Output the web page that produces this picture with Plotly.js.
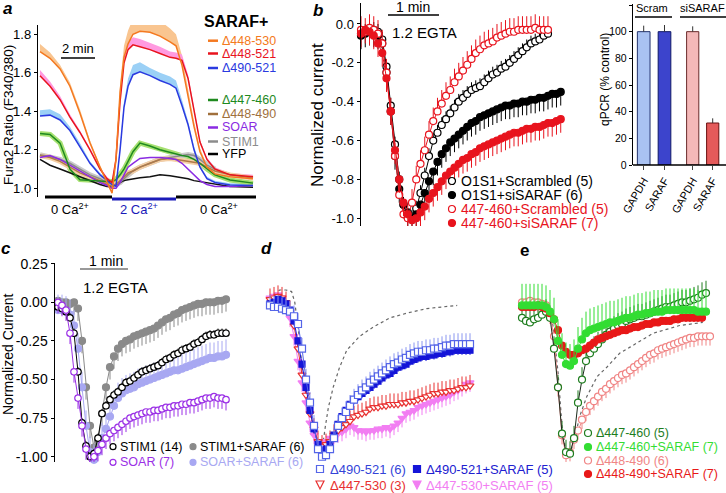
<!DOCTYPE html>
<html><head><meta charset="utf-8">
<script src="https://cdn.plot.ly/plotly-3.0.1.min.js"></script>
<style>html,body{margin:0;padding:0;background:#fff}#chart{width:726px;height:493px}</style>
</head><body><div id="chart"></div>
<script>
// ---------------- DATA ----------------
// Panel a: time (min) and Fura2 ratios
const tA = [0,0.59,1.18,1.76,2.35,2.94,3.53,3.94,4.24,4.47,4.71,4.94,5.18,5.47,5.88,6.47,7.06,7.65,8.0,8.35,8.71,9.06,9.41,9.82,10.29,11.18,12.53];
const aD448_530 = [1.71,1.675,1.62,1.53,1.39,1.235,1.11,1.03,0.975,1.15,1.5,1.68,1.75,1.80,1.815,1.81,1.79,1.76,1.74,1.64,1.48,1.32,1.19,1.11,1.075,1.06,1.05];
const aD448_521 = [1.585,1.53,1.46,1.37,1.29,1.2,1.1,1.05,1.03,1.15,1.45,1.65,1.72,1.745,1.735,1.72,1.70,1.68,1.675,1.665,1.57,1.40,1.24,1.15,1.10,1.07,1.06];
const aD490_521 = [1.375,1.38,1.355,1.30,1.215,1.13,1.07,1.04,1.02,1.01,1.2,1.42,1.53,1.59,1.605,1.585,1.56,1.54,1.52,1.43,1.33,1.2,1.11,1.05,1.03,1.017,1.015];
const aD447_460 = [1.285,1.28,1.235,1.10,1.045,1.04,1.035,1.035,1.035,1.045,1.07,1.10,1.14,1.19,1.235,1.22,1.2,1.185,1.175,1.17,1.165,1.15,1.13,1.10,1.07,1.043,1.027];
const aD448_490 = [1.17,1.16,1.14,1.11,1.08,1.06,1.04,1.02,1.01,1.02,1.04,1.06,1.08,1.09,1.11,1.13,1.15,1.155,1.15,1.145,1.14,1.135,1.13,1.11,1.09,1.07,1.053];
const aSOAR = [1.16,1.17,1.15,1.12,1.09,1.06,1.03,1.015,1.0,1.0,1.03,1.07,1.11,1.13,1.155,1.16,1.16,1.155,1.15,1.13,1.10,1.07,1.04,1.02,1.01,1.01,1.015];
const aSTIM1 = [1.175,1.165,1.15,1.13,1.10,1.07,1.05,1.03,1.02,1.02,1.03,1.05,1.07,1.09,1.11,1.13,1.15,1.16,1.165,1.17,1.175,1.17,1.15,1.12,1.10,null,null];
const aYFP = [1.15,1.12,1.10,1.08,1.06,1.04,1.02,1.01,1.01,1.02,1.03,1.04,1.045,1.05,1.055,1.06,1.07,1.065,1.06,1.055,1.05,1.04,1.035,1.03,1.02,1.01,1.005];
const errA530 = [0.04,0.03,0.02,0.02,0.02,0.015,0.01,0.01,0.01,0.02,0.04,0.06,0.07,0.08,0.08,0.08,0.08,0.07,0.06,0.05,0.04,0.03,0.02,0.01,0.01,0.01,0.01];
const errA521 = [0.03,0.025,0.02,0.015,0.01,0.01,0.01,0.01,0.01,0.01,0.03,0.04,0.04,0.04,0.04,0.035,0.035,0.03,0.03,0.03,0.02,0.02,0.01,0.01,0.01,0.01,0.01];
const errA490 = [0.03,0.03,0.03,0.02,0.02,0.01,0.01,0.01,0.01,0.01,0.02,0.03,0.04,0.05,0.05,0.04,0.04,0.04,0.04,0.03,0.02,0.02,0.01,0.01,0.01,0.01,0.01];

// Panel b: normalized current, sampled every 5 s
const bO1S1Scr = [-0.05,-0.04,-0.03,-0.03,-0.04,-0.08,-0.22,-0.42,-0.62,-0.8,-0.93,-0.99,-1.0,-0.95,-0.87,-0.78,-0.68,-0.6,-0.56,-0.52,-0.49,-0.46,-0.43,-0.4,-0.38,-0.36,-0.34,-0.33,-0.32,-0.3,-0.28,-0.26,-0.25,-0.23,-0.22,-0.2,-0.18,-0.16,-0.14,-0.12,-0.1,-0.09,-0.08,-0.06,-0.05];
const bO1S1Si = [-0.06,-0.05,-0.04,-0.05,-0.06,-0.1,-0.25,-0.45,-0.68,-0.85,-0.93,-0.97,-1.0,-0.98,-0.93,-0.87,-0.81,-0.76,-0.71,-0.67,-0.64,-0.61,-0.59,-0.57,-0.55,-0.53,-0.51,-0.5,-0.48,-0.47,-0.46,-0.45,-0.44,-0.43,-0.42,-0.42,-0.41,-0.41,-0.4,-0.4,-0.39,-0.39,-0.38,-0.38,-0.37,-0.36,-0.36,-0.35];
const b447Scr = [-0.03,-0.04,-0.02,-0.03,-0.05,-0.1,-0.25,-0.45,-0.68,-0.88,-0.98,-1.0,-0.92,-0.8,-0.72,-0.65,-0.57,-0.5,-0.45,-0.41,-0.37,-0.34,-0.3,-0.27,-0.24,-0.21,-0.18,-0.15,-0.13,-0.11,-0.1,-0.09,-0.07,-0.06,-0.05,-0.04,-0.04,-0.03,-0.03,-0.03,-0.03,-0.02,-0.03,-0.03,-0.03];
const b447Si = [-0.05,-0.03,-0.04,-0.06,-0.1,-0.15,-0.28,-0.45,-0.65,-0.8,-0.92,-0.98,-1.01,-1.0,-0.97,-0.94,-0.9,-0.87,-0.84,-0.81,-0.78,-0.76,-0.74,-0.72,-0.7,-0.69,-0.67,-0.66,-0.64,-0.63,-0.62,-0.61,-0.6,-0.59,-0.58,-0.57,-0.56,-0.56,-0.55,-0.54,-0.54,-0.53,-0.53,-0.52,-0.51,-0.51,-0.5,-0.49];

// qPCR
const qCats = ['GAPDH','SARAF'];
const qScram = [100,100], qScramErr = [4.5,5];
const qSi = [100,31.5], qSiErr = [4,3.5];

// Panel c (5 s steps)
const cSTIM1 = [-0.03,-0.04,-0.06,-0.1,-0.2,-0.45,-0.78,-0.93,-1.0,-0.98,-0.88,-0.72,-0.67,-0.63,-0.6,-0.58,-0.55,-0.52,-0.51,-0.49,-0.47,-0.45,-0.44,-0.43,-0.42,-0.41,-0.39,-0.37,-0.36,-0.34,-0.33,-0.31,-0.3,-0.29,-0.27,-0.26,-0.24,-0.22,-0.21,-0.21,-0.2,-0.2,-0.2];
const cSTIM1S = [0.01,0.0,0.0,-0.01,0.0,-0.04,-0.25,-0.55,-0.8,-0.94,-0.9,-0.72,-0.55,-0.42,-0.35,-0.3,-0.27,-0.25,-0.24,-0.22,-0.21,-0.2,-0.19,-0.18,-0.17,-0.15,-0.13,-0.11,-0.1,-0.08,-0.07,-0.05,-0.04,-0.03,-0.02,-0.01,-0.01,0.0,0.0,0.0,0.01,0.01,0.02];
const cSOAR = [0.0,-0.02,-0.05,-0.2,-0.45,-0.62,-0.8,-0.95,-1.04,-1.0,-0.96,-0.92,-0.88,-0.85,-0.83,-0.81,-0.79,-0.77,-0.75,-0.74,-0.73,-0.72,-0.71,-0.71,-0.7,-0.7,-0.69,-0.68,-0.68,-0.67,-0.67,-0.66,-0.66,-0.65,-0.65,-0.64,-0.63,-0.62,-0.62,-0.61,-0.62,-0.62,-0.63];
const cSOARS = [-0.05,-0.05,-0.06,-0.08,-0.15,-0.3,-0.55,-0.8,-0.97,-1.02,-0.97,-0.88,-0.82,-0.74,-0.67,-0.62,-0.59,-0.57,-0.56,-0.55,-0.53,-0.52,-0.51,-0.5,-0.49,-0.48,-0.47,-0.46,-0.45,-0.44,-0.44,-0.43,-0.42,-0.41,-0.4,-0.39,-0.38,-0.37,-0.36,-0.36,-0.35,-0.35,-0.34];

// Panel d (5 s steps)
const d490 = [-0.02,-0.03,-0.03,-0.04,-0.05,-0.06,-0.09,-0.14,-0.3,-0.5,-0.65,-0.8,-0.95,-1.0,-0.99,-0.95,-0.88,-0.8,-0.75,-0.71,-0.67,-0.63,-0.6,-0.57,-0.55,-0.52,-0.5,-0.48,-0.46,-0.44,-0.42,-0.4,-0.39,-0.37,-0.36,-0.34,-0.33,-0.32,-0.32,-0.31,-0.31,-0.3,-0.3,-0.29,-0.28,-0.28,-0.27,-0.27,-0.27,-0.27,-0.27];
const d490S = [-0.01,0.0,0.02,0.01,-0.01,-0.05,-0.12,-0.25,-0.4,-0.55,-0.7,-0.82,-0.92,-0.96,-0.95,-0.92,-0.86,-0.79,-0.74,-0.7,-0.66,-0.63,-0.61,-0.59,-0.57,-0.55,-0.53,-0.51,-0.49,-0.47,-0.46,-0.44,-0.42,-0.41,-0.4,-0.38,-0.37,-0.36,-0.35,-0.35,-0.34,-0.34,-0.33,-0.33,-0.32,-0.32,-0.31,-0.31,-0.31,-0.31,-0.31];
const d447 = [0.02,0.03,0.04,0.03,0.0,-0.06,-0.15,-0.3,-0.47,-0.6,-0.72,-0.82,-0.9,-0.93,-0.92,-0.9,-0.86,-0.83,-0.81,-0.79,-0.77,-0.74,-0.73,-0.72,-0.71,-0.69,-0.68,-0.68,-0.67,-0.67,-0.66,-0.66,-0.66,-0.65,-0.65,-0.64,-0.64,-0.63,-0.62,-0.61,-0.6,-0.59,-0.59,-0.58,-0.58,-0.57,-0.57,-0.56,-0.55,-0.55,-0.54];
const d447S = [0.03,0.04,0.05,0.03,-0.02,-0.1,-0.22,-0.38,-0.52,-0.65,-0.78,-0.86,-0.9,-0.92,-0.9,-0.88,-0.86,-0.85,-0.84,-0.82,-0.8,-0.81,-0.83,-0.83,-0.84,-0.83,-0.83,-0.82,-0.82,-0.81,-0.82,-0.8,-0.78,-0.75,-0.72,-0.71,-0.7,-0.68,-0.67,-0.66,-0.65,-0.64,-0.63,-0.62,-0.61,-0.6,-0.58,-0.57,-0.55,-0.53,-0.52];
const dRefT = [5,12,20,27,31,36,40,45,50,55,60,65,69,73,79,87,96,112,129,150,171,196,234];
const dRef = [0.05,0.08,0.08,0.07,0.0,-0.2,-0.42,-0.6,-0.72,-0.83,-0.9,-0.96,-0.81,-0.68,-0.55,-0.42,-0.31,-0.22,-0.16,-0.1,-0.07,-0.04,-0.02];

// Panel e (5 s steps)
const e447 = [-0.1,-0.12,-0.13,-0.11,-0.1,-0.08,-0.06,-0.1,-0.3,-0.55,-0.85,-0.97,-0.98,-0.88,-0.65,-0.5,-0.38,-0.33,-0.3,-0.27,-0.24,-0.21,-0.19,-0.17,-0.15,-0.14,-0.12,-0.11,-0.1,-0.09,-0.09,-0.08,-0.07,-0.06,-0.05,-0.04,-0.03,-0.03,-0.02,-0.01,0.0,0.0,0.01,0.02,0.03,0.05,0.06];
const e447S = [-0.02,-0.02,-0.02,-0.02,-0.02,-0.02,-0.03,-0.06,-0.11,-0.25,-0.34,-0.4,-0.41,-0.38,-0.3,-0.24,-0.2,-0.18,-0.17,-0.16,-0.15,-0.14,-0.13,-0.13,-0.12,-0.11,-0.1,-0.1,-0.09,-0.08,-0.08,-0.07,-0.07,-0.06,-0.06,-0.06,-0.05,-0.05,-0.05,-0.05,-0.05,-0.05,-0.05,-0.05,-0.06,-0.06,-0.06];
const e448 = [0.0,0.0,0.01,0.0,0.0,-0.01,-0.02,-0.08,-0.22,-0.55,-0.86,-0.99,-0.97,-0.89,-0.83,-0.76,-0.71,-0.67,-0.64,-0.61,-0.58,-0.56,-0.53,-0.51,-0.49,-0.47,-0.46,-0.44,-0.42,-0.4,-0.38,-0.36,-0.34,-0.33,-0.31,-0.3,-0.29,-0.28,-0.27,-0.26,-0.25,-0.24,-0.23,-0.23,-0.22,-0.22,-0.22,-0.22];
const e448S = [-0.03,-0.03,-0.03,-0.03,-0.02,-0.03,-0.04,-0.07,-0.11,-0.18,-0.28,-0.32,-0.34,-0.34,-0.33,-0.31,-0.3,-0.28,-0.26,-0.24,-0.23,-0.22,-0.21,-0.2,-0.19,-0.18,-0.18,-0.17,-0.16,-0.16,-0.15,-0.14,-0.14,-0.13,-0.13,-0.12,-0.12,-0.12,-0.11,-0.11,-0.1,-0.1,-0.1,-0.1,-0.1,-0.1];
const eRefT = [30,38,45,50,55,60,66,72,81,94,106,122,135,164,197,226];
const eRef = [-0.03,-0.12,-0.45,-0.8,-0.97,-0.98,-0.88,-0.74,-0.61,-0.48,-0.42,-0.33,-0.29,-0.2,-0.15,-0.13];

// ---------------- LAYOUT HELPERS ----------------
const W=726, H=493;
const X = v => v/W, Y = v => 1 - v/H;
const dx = (a,b) => [a/W, b/W];
const dy = (t,b) => [1-b/H, 1-t/H];
const secs = arr => arr.map((_,i)=>i*5);
const FONT = 'Liberation Sans, Arial, Helvetica, sans-serif';

const annotations = [];
const shapes = [];
function txt(text, x, y, o={}) {
  annotations.push({text, x:X(x), y:Y(y), xref:'paper', yref:'paper', showarrow:false,
    xanchor:o.xa||'center', yanchor:'middle', textangle:o.angle||0,
    font:{size:o.size||13, color:o.color||'#000', family:FONT}});
}
function hline(x0,y0,x1,y1,color,width){
  shapes.push({type:'line', xref:'paper', yref:'paper', x0:X(x0), y0:Y(y0), x1:X(x1), y1:Y(y1), line:{color, width}});
}
function circ(cx,cy,r,fill,stroke){
  shapes.push({type:'circle', xref:'paper', yref:'paper', x0:X(cx-r), x1:X(cx+r), y0:Y(cy+r), y1:Y(cy-r), fillcolor:fill, line:{color:stroke, width:1.2}});
}
function rect(cx,cy,r,fill,stroke){
  shapes.push({type:'rect', xref:'paper', yref:'paper', x0:X(cx-r), x1:X(cx+r), y0:Y(cy+r), y1:Y(cy-r), fillcolor:fill, line:{color:stroke, width:1.2}});
}
function tri(cx,cy,r,fill,stroke){
  shapes.push({type:'path', xref:'paper', yref:'paper',
    path:`M ${X(cx-r)},${Y(cy-r)} L ${X(cx+r)},${Y(cy-r)} L ${X(cx)},${Y(cy+r)} Z`, fillcolor:fill, line:{color:stroke, width:1.2}});
}

const traces = [];
// ---------------- PANEL a ----------------
function band(vals, err, color){
  traces.push({x:tA, y:vals.map((v,i)=>v+err[i]), xaxis:'x', yaxis:'y', mode:'lines', line:{width:0}, hoverinfo:'skip', showlegend:false});
  traces.push({x:tA, y:vals, xaxis:'x', yaxis:'y', mode:'lines', line:{width:0}, fill:'tonexty', fillcolor:color, hoverinfo:'skip', showlegend:false});
}
band(aD448_530, errA530, '#f9c590');
band(aD448_521, errA521, '#ff9ae0');
band(aD490_521, errA490, '#9bd0f6');
[[aD447_460,'#a6e070'],[aSTIM1,'#cacaca'],[aD448_490,'#f5cfa5']].forEach(([v,c])=>{
  traces.push({x:tA, y:v, xaxis:'x', yaxis:'y', mode:'lines', line:{color:c, width:5}, showlegend:false, connectgaps:false});
});
const aSeries = [
  [aYFP,'#111111'],[aSTIM1,'#8c8c8c'],[aD448_490,'#b07a48'],[aSOAR,'#8a2be2'],
  [aD447_460,'#1f8a1f'],[aD490_521,'#2a3ae0'],[aD448_521,'#e8141e'],[aD448_530,'#f47920']];
aSeries.forEach(([v,c])=>traces.push({x:tA, y:v, xaxis:'x', yaxis:'y', mode:'lines', line:{color:c, width:1.5}, showlegend:false}));

// ---------------- PANEL b ----------------
function errC(up, down, color){ return {type:'constant', symmetric:false, value:up, valueminus:down, color, thickness:1, width:0}; }
function mk(vals, xa, ya, fill, stroke, size, symbol, err, lineColor){
  return {x:secs(vals), y:vals, xaxis:xa, yaxis:ya, mode:'lines+markers', cliponaxis:false, showlegend:false,
    line:{color:lineColor||stroke, width:1},
    marker:{symbol:symbol||'circle', size:size||7, color:fill, line:{color:stroke, width:1.2}}, error_y:err};
}
traces.push(mk(bO1S1Scr,'x2','y2','#ffffff','#000000',7,'circle',errC(0.04,0,'#000')));
traces.push(mk(bO1S1Si,'x2','y2','#000000','#000000',7,'circle',errC(0,0.07,'#000')));
traces.push(mk(b447Scr,'x2','y2','#ffffff','#e8141e',7,'circle',errC(0.07,0,'#e8141e')));
traces.push(mk(b447Si,'x2','y2','#e8141e','#e8141e',7,'circle',errC(0,0.07,'#e8141e')));

// ---------------- qPCR ----------------
traces.push({type:'bar', x:qCats, y:qScram, xaxis:'x3', yaxis:'y3', showlegend:false,
  marker:{color:['#a9c2f2','#3c44cc'], line:{color:['#23336e','#101866'], width:1}},
  error_y:{type:'data', array:qScramErr, arrayminus:[0,0], symmetric:false, color:'#333', thickness:1, width:0}});
traces.push({type:'bar', x:qCats, y:qSi, xaxis:'x7', yaxis:'y3', showlegend:false,
  marker:{color:['#f4b8b8','#e45a5a'], line:{color:['#6a2a2a','#6a1010'], width:1}},
  error_y:{type:'data', array:qSiErr, arrayminus:[0,0], symmetric:false, color:'#333', thickness:1, width:0}});

// ---------------- PANEL c ----------------
traces.push(mk(cSTIM1S,'x4','y4','#8a8a8a','#8a8a8a',7,'circle',errC(0,0.08,'#8a8a8a')));
traces.push(mk(cSOARS,'x4','y4','#a8a8f2','#a8a8f2',7,'circle',errC(0.1,0,'#a8a8f2')));
traces.push(mk(cSTIM1,'x4','y4','#ffffff','#000000',6.5,'circle',errC(0.03,0,'#000')));
traces.push(mk(cSOAR,'x4','y4','#ffffff','#9b30e6',6.5,'circle',errC(0,0.07,'#9b30e6')));

// ---------------- PANEL d ----------------
traces.push({x:dRefT, y:dRef, xaxis:'x5', yaxis:'y5', mode:'lines', line:{color:'#666', width:1.2, dash:'dot'}, showlegend:false});
traces.push(mk(d447S,'x5','y5','#f27ef2','#f27ef2',7,'triangle-down',errC(0,0.06,'#f27ef2')));
traces.push(mk(d447,'x5','y5','#ffffff','#e83030',7,'triangle-down',errC(0.07,0,'#e83030')));
traces.push(mk(d490S,'x5','y5','#1515d8','#1515d8',6,'square',errC(0,0.03,'#1515d8')));
traces.push(mk(d490,'x5','y5','#ffffff','#5565e8',7,'square',errC(0.07,0,'#8a96f0')));

// ---------------- PANEL e ----------------
traces.push({x:eRefT, y:eRef, xaxis:'x6', yaxis:'y6', mode:'lines', line:{color:'#666', width:1.2, dash:'dot'}, showlegend:false});
traces.push(mk(e448,'x6','y6','#ffffff','#f08585',7,'circle',errC(0,0.06,'#f08585')));
traces.push(mk(e447,'x6','y6','#ffffff','#1e7d1e',7,'circle',errC(0.08,0,'#1e7d1e'),'#1a2a1a'));
traces.push(mk(e448S,'x6','y6','#e81818','#e81818',7,'circle',errC(0.02,0,'#e81818')));
traces.push(mk(e447S,'x6','y6','#33dd33','#33dd33',7,'circle',errC(0.14,0,'#33dd33')));

// ---------------- ANNOTATIONS / SHAPES ----------------
// panel labels
txt('<b><i>a</i></b>', 7, 9, {size:17});
txt('<b><i>b</i></b>', 318, 10, {size:17});
txt('<b><i>c</i></b>', 6, 248, {size:17});
txt('<b><i>d</i></b>', 266, 248, {size:17});
txt('<b>e</b>', 524, 250, {size:17});

// panel a
txt('Fura2 Ratio (F340/380)', 9, 115, {size:13.5, angle:-90});
txt('2 min', 78, 49, {size:13});
hline(61,58,95,58,'#000',1.5);
txt('<b>SARAF+</b>', 202, 22, {size:16, xa:'left'});
const aLeg = [['Δ448-530','#f47920',40.7],['Δ448-521','#e8141e',53.5],['Δ490-521','#2a3ae0',68],
  ['Δ447-460','#1f8a1f',100],['Δ448-490','#a0703c',114],['SOAR','#8a2be2',127.5],['STIM1','#8c8c8c',141.5],['YFP','#000000',154]];
aLeg.forEach(([t,c,y])=>{ hline(208,y,218,y,c,2.5); txt(t,220,y,{size:12.5,color:c,xa:'left'}); });
hline(45,197,112,197,'#000',3);
hline(112,199,176,199,'#1a1ab8',3);
hline(176,197,256,197,'#000',3);
txt('0 Ca<sup>2+</sup>', 70, 209, {size:13});
txt('2 Ca<sup>2+</sup>', 139, 209, {size:13, color:'#1a1ab8'});
txt('0 Ca<sup>2+</sup>', 219, 209, {size:13});

// panel b
txt('Normalized current', 318, 115, {size:17, angle:-90});
hline(388,15,439,15,'#000',1.5);
txt('1 min', 413, 7.5, {size:14});
txt('1.2 EGTA', 424, 33, {size:15});
const bLeg = [['O1S1+Scrambled (5)','#000','#fff','#000',181],['O1S1+siSARAF (6)','#000','#000','#000',195],
  ['447-460+Scrambled (5)','#e8141e','#fff','#e8141e',209],['447-460+siSARAF (7)','#e8141e','#e8141e','#e8141e',223]];
bLeg.forEach(([t,tc,f,s,y])=>{ circ(452,y,3.5,f,s); txt(t,459,y,{size:14,color:tc,xa:'left'}); });

// qPCR
txt('qPCR (% control)', 605, 80, {size:12, angle:-90});
hline(633,165,726,165,'#000',1.5);
hline(635,17,672,17,'#000',1.5);
hline(680,17,726,17,'#000',1.5);
txt('Scram', 652, 8, {size:11});
txt('siSARAF', 702, 8, {size:11});

// panel c
txt('Normalized Current', 8, 355, {size:14, angle:-90});
hline(80,269,128,269,'#777',1.5);
txt('1 min', 106, 261, {size:14});
txt('1.2 EGTA', 115, 287, {size:15});
circ(113,446.7,3,'#fff','#000'); txt('STIM1 (14)',118,446.7,{size:12.5,xa:'left'});
circ(193,446.7,3,'#8a8a8a','#8a8a8a'); txt('STIM1+SARAF (6)',198,446.7,{size:12.5,xa:'left'});
circ(113,462.3,3,'#fff','#9b30e6'); txt('SOAR (7)',118,462.3,{size:12.5,xa:'left',color:'#9b30e6'});
circ(193,462.3,3,'#a8a8f2','#a8a8f2'); txt('SOAR+SARAF (6)',198,462.3,{size:12.5,xa:'left',color:'#a8a8f2'});

// panel d
rect(320,469,3.5,'#fff','#5565e8'); txt('Δ490-521 (6)',328,469,{size:13,xa:'left',color:'#3344d8'});
rect(417,469,3.5,'#1515d8','#1515d8'); txt('Δ490-521+SARAF (5)',424,469,{size:13,xa:'left',color:'#2020d0'});
tri(320,485,4,'#fff','#e83030'); txt('Δ447-530 (3)',328,485,{size:13,xa:'left',color:'#e83030'});
tri(417,485,4,'#f27ef2','#f27ef2'); txt('Δ447-530+SARAF (5)',424,485,{size:13,xa:'left',color:'#f27ef2'});

// panel e
const eLeg = [['Δ447-460 (5)','#1e7d1e','#fff',433],['Δ447-460+SARAF (7)','#33dd33','#33dd33',447],
  ['Δ448-490 (6)','#f08585','#fff',460.5],['Δ448-490+SARAF (7)','#e81818','#e81818',474]];
eLeg.forEach(([t,c,f,y])=>{ circ(588,y,3.5,f,c); txt(t,594,y,{size:12.5,color:c,xa:'left'}); });

// ---------------- AXES ----------------
const hid = (domain, range, anchor) => ({domain, range, anchor, visible:false, showgrid:false, zeroline:false});
const yax = (domain, range, anchor, vals, labels, size) => ({domain, range, anchor, showline:true, linecolor:'#000', linewidth:1.5,
  ticks:'outside', ticklen:3, tickcolor:'#000', tickvals:vals, ticktext:labels, tickfont:{size, family:FONT, color:'#000'},
  showgrid:false, zeroline:false});
const cTicks = [0.25,0,-0.25,-0.5,-0.75,-1];
const layout = {
  width:W, height:H, margin:{l:0,r:0,t:0,b:0}, paper_bgcolor:'#fff', plot_bgcolor:'rgba(0,0,0,0)',
  font:{family:FONT, color:'#000'}, showlegend:false, bargap:0.39,
  xaxis: hid(dx(38.3,256), [-0.1,12.706], 'y'),
  yaxis: yax(dy(25,197), [0.955,1.848], 'x', [1.0,1.2,1.4,1.6,1.8], ['1.0','1.2','1.4','1.6','1.8'], 13),
  xaxis2: hid(dx(361,566), [0,241.2], 'y2'),
  yaxis2: yax(dy(3,226), [-1.04,0.108], 'x2', [0,-0.2,-0.4,-0.6,-0.8,-1.0], ['0.0','-0.2','-0.4','-0.6','-0.8','-1.0'], 13),
  xaxis3: {domain:dx(633.3,674.9), anchor:'y3', type:'category', range:[-0.5,1.5], tickangle:-60, ticks:'outside', ticklen:4,
    tickfont:{size:11, family:FONT}, showline:false, showgrid:false, zeroline:false},
  xaxis7: {domain:dx(682.7,722.7), anchor:'y3', type:'category', range:[-0.5,1.5], tickangle:-60, ticks:'outside', ticklen:4,
    tickfont:{size:11, family:FONT}, showline:false, showgrid:false, zeroline:false},
  yaxis3: yax(dy(4,165), [0,120.75], 'x3', [0,20,40,60,80,100,120], ['0','20','40','60','80','100','120'], 10.5),
  xaxis4: hid(dx(55,240), [-3.75,227.5], 'y4'),
  yaxis4: yax(dy(263,462), [-1.034,0.255], 'x4', cTicks, ['0.25','0.00','-0.25','-0.50','-0.75','-1.00'], 14),
  xaxis5: hid(dx(262,480), [-10,262.5], 'y5'),
  yaxis5: hid(dy(263,462), [-1.034,0.255], 'x5'),
  xaxis6: hid(dx(515,722), [-8.75,250], 'y6'),
  yaxis6: hid(dy(263,462), [-1.034,0.255], 'x6'),
  annotations, shapes
};
Plotly.newPlot('chart', traces, layout, {staticPlot:true, displayModeBar:false});
</script></body></html>
